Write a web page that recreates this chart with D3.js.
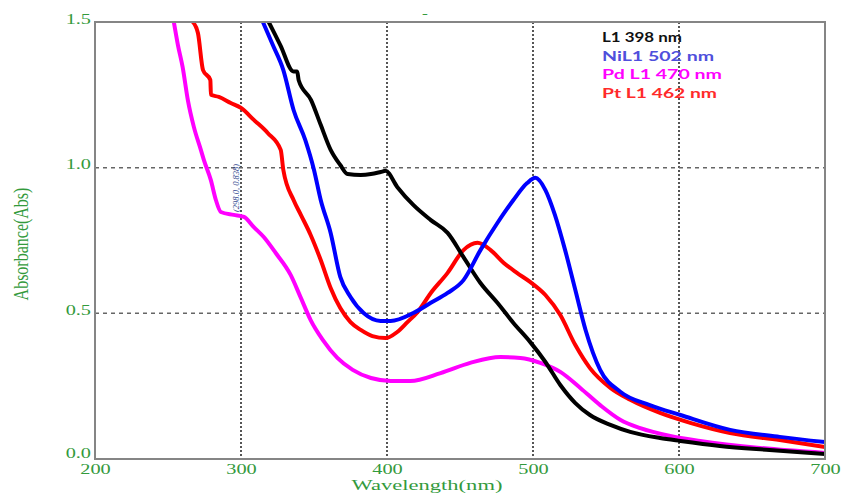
<!DOCTYPE html>
<html>
<head>
<meta charset="utf-8">
<script src="https://cdn.jsdelivr.net/npm/d3@7"></script>
<style>
  html, body { margin: 0; padding: 0; background: #ffffff; }
  svg { display: block; }
</style>
</head>
<body>
<div id="chart"></div>
<script>
// ---------- data (wavelength nm, absorbance) ----------
const seriesNames = ["L1", "NiL1", "Pd L1", "Pt L1"];
const legendLabels = ["L1 398 nm", "NiL1 502 nm", "Pd L1 470 nm", "Pt L1 462 nm"];
const xTicks = [200, 300, 400, 500, 600, 700];
const yTicks = [0.0, 0.5, 1.0, 1.5];

const l1Data = [
  [319,1.50],[327,1.42],[336,1.33],[338.5,1.33],[339.5,1.30],[348,1.232],[354.6,1.147],
  [361.4,1.061],[368,1.009],[373,0.978],[382,0.975],[389,0.978],[395.6,0.985],[399,0.989],
  [407,0.934],[418,0.872],[430,0.820],[441.5,0.776],[452.4,0.693],[464,0.604],[475.6,0.536],
  [486.6,0.467],[498,0.402],[508.5,0.333],[518.7,0.254],[529,0.192],[539,0.151],[553,0.117],
  [566.6,0.093],[587,0.072],[601,0.062],[628,0.045],[662,0.031],[700,0.017]
];
const niL1Data = [
  [315,1.50],[321.8,1.421],[329,1.335],[336,1.198],[344,1.095],[350,0.992],[354.6,0.889],
  [361.4,0.776],[368,0.625],[375,0.556],[384,0.501],[395.6,0.474],[402.5,0.474],[418,0.501],
  [430,0.536],[441.5,0.570],[452.4,0.614],[464,0.717],[475.6,0.810],[486.6,0.889],[496,0.947],
  [501.6,0.965],[508.5,0.923],[515,0.838],[522,0.717],[529,0.580],[536,0.443],[546,0.306],
  [560,0.230],[580,0.185],[601,0.151],[635,0.100],[669,0.076],[700,0.058]
];
const pdL1Data = [
  [254,1.50],[256.8,1.421],[260,1.346],[263.6,1.232],[267.7,1.140],[272.5,1.061],[274.6,1.026],
  [279.3,0.958],[282.8,0.889],[286.2,0.848],[295,0.838],[302,0.831],[308.8,0.796],[315.6,0.762],
  [323.8,0.707],[334,0.632],[341,0.553],[347.7,0.477],[356,0.409],[366,0.347],[376.5,0.306],
  [389,0.278],[402.5,0.268],[416,0.268],[436.7,0.295],[457,0.330],[477.7,0.350],[491.4,0.347],
  [505,0.330],[518.7,0.299],[532.4,0.244],[546,0.185],[560,0.134],[573.5,0.106],[594,0.079],
  [614.5,0.062],[655.5,0.038],[700,0.021]
];
const ptL1Data = [
  [267,1.50],[270.5,1.462],[274,1.335],[279,1.301],[279.4,1.25],[284.8,1.243],[293,1.222],
  [300,1.205],[308.8,1.164],[318.3,1.119],[327.2,1.061],[329,0.992],[336,0.889],[341,0.838],
  [347.7,0.769],[354.6,0.683],[361.4,0.587],[368,0.518],[375,0.470],[382,0.443],[390,0.422],
  [399,0.415],[407,0.436],[414,0.470],[421,0.505],[430,0.570],[441.5,0.639],[452.4,0.717],
  [462,0.742],[471,0.717],[480,0.673],[489,0.639],[498,0.608],[508.5,0.563],[518.7,0.494],
  [529,0.391],[539,0.312],[553,0.244],[566.6,0.203],[587,0.158],[607.7,0.124],[635,0.089],
  [669,0.065],[700,0.041]
];
const seriesData = [l1Data, niL1Data, pdL1Data, ptL1Data];
const seriesColors = ["#000000", "#0000ff", "#ff00ff", "#ff0000"];
const legendColors = ["#111111", "#4f4fdc", "#ff00ff", "#ff2a2a"];
const annotation = "(298.0, 0.838)";

// ---------- layout ----------
const W = 842, H = 493;
const mLeft = 95, mRight = 825, mTop = 22, mBottom = 459;
const SX = 1.35;               // horizontal stretch of the text
const green = "#339a3c";

const svg = d3.select("#chart").append("svg").attr("width", W).attr("height", H);

const x = d3.scaleLinear().domain([200, 700]).range([mLeft, mRight]);
const y = d3.scaleLinear().domain([0, 1.5]).range([mBottom, mTop]);

svg.append("defs").append("clipPath").attr("id", "plotclip")
  .append("rect").attr("x", mLeft).attr("y", mTop).attr("width", mRight - mLeft).attr("height", mBottom - mTop);

// grid
svg.append("g").selectAll("line").data(xTicks.slice(1, -1)).join("line")
  .attr("x1", d => x(d)).attr("x2", d => x(d)).attr("y1", mTop).attr("y2", mBottom)
  .attr("stroke", "#555").attr("stroke-width", 2).attr("stroke-dasharray", "2,2");
svg.append("g").selectAll("line").data(yTicks.slice(1, -1)).join("line")
  .attr("x1", mLeft).attr("x2", mRight).attr("y1", d => y(d)).attr("y2", d => y(d))
  .attr("stroke", "#666").attr("stroke-width", 1.5).attr("stroke-dasharray", "4,4");

// curves
const line = d3.line().x(d => x(d[0])).y(d => y(d[1])).curve(d3.curveMonotoneX);
const curves = svg.append("g").attr("clip-path", "url(#plotclip)");
const drawOrder = [2, 3, 0, 1];
drawOrder.forEach(i => {
  curves.append("path").datum(seriesData[i]).attr("d", line)
    .attr("fill", "none").attr("stroke", seriesColors[i]).attr("stroke-width", 4)
    .attr("stroke-linejoin", "round").attr("stroke-linecap", "round");
});

// frame
svg.append("rect").attr("x", mLeft).attr("y", mTop).attr("width", mRight - mLeft).attr("height", mBottom - mTop)
  .attr("fill", "none").attr("stroke", "#858585").attr("stroke-width", 2);

// x axis
const xAxisG = svg.append("g").attr("transform", `translate(0,${mBottom})`)
  .call(d3.axisBottom(x).tickValues(xTicks).tickSize(0).tickFormat(d3.format("d")));
xAxisG.select(".domain").remove();
xAxisG.selectAll("text")
  .attr("y", 0).attr("dy", 0)
  .attr("transform", `translate(0,15) scale(1.4,1)`)
  .attr("font-family", "'Liberation Serif', 'Times New Roman', serif")
  .attr("font-size", 14.5).attr("fill", green);

// y axis
const yAxisG = svg.append("g").attr("transform", `translate(${mLeft},0)`)
  .call(d3.axisLeft(y).tickValues(yTicks).tickSize(0).tickFormat(d3.format(".1f")));
yAxisG.select(".domain").remove();
yAxisG.selectAll("text")
  .attr("x", 0).attr("dy", 0)
  .attr("transform", d => `translate(-4,${d === 0 ? -1.5 : 1}) scale(1.45,1)`)
  .attr("font-family", "'Liberation Serif', 'Times New Roman', serif")
  .attr("font-size", 14).attr("fill", green);

// axis titles
svg.append("text")
  .attr("transform", `translate(427,490) scale(1.61,1)`)
  .attr("text-anchor", "middle")
  .attr("font-family", "'Liberation Serif', 'Times New Roman', serif")
  .attr("font-size", 14).attr("fill", green)
  .text("Wavelength(nm)");

svg.append("text")
  .attr("transform", `translate(28,244) scale(${SX},1) rotate(-90)`)
  .attr("text-anchor", "middle")
  .attr("font-family", "'Liberation Serif', 'Times New Roman', serif")
  .attr("font-size", 16).attr("fill", green)
  .text("Absorbance(Abs)");

// small dash at top
svg.append("text")
  .attr("transform", `translate(425,17) scale(${SX},1)`)
  .attr("text-anchor", "middle")
  .attr("font-family", "'Liberation Serif', serif")
  .attr("font-size", 13).attr("fill", green)
  .text("-");

// annotation
svg.append("text")
  .attr("transform", `translate(${x(298) + 1},${y(0.848)}) rotate(-90)`)
  .attr("font-family", "'Liberation Serif', serif")
  .attr("font-style", "italic")
  .attr("font-size", 8).attr("fill", "#2b3f8c")
  .attr("textLength", 48).attr("lengthAdjust", "spacingAndGlyphs")
  .text(annotation);

// legend
const legendWidths = [80, 112, 120, 115];
const legend = svg.append("g");
legendLabels.forEach((t, i) => {
  legend.append("text")
    .attr("x", 602).attr("y", 42 + i * 18.7)
    .attr("font-family", "Lato, 'Open Sans', sans-serif")
    .attr("font-weight", "bold")
    .attr("font-size", 12.5)
    .attr("fill", legendColors[i])
    .attr("textLength", legendWidths[i]).attr("lengthAdjust", "spacingAndGlyphs")
    .text(t);
});
</script>
</body>
</html>
